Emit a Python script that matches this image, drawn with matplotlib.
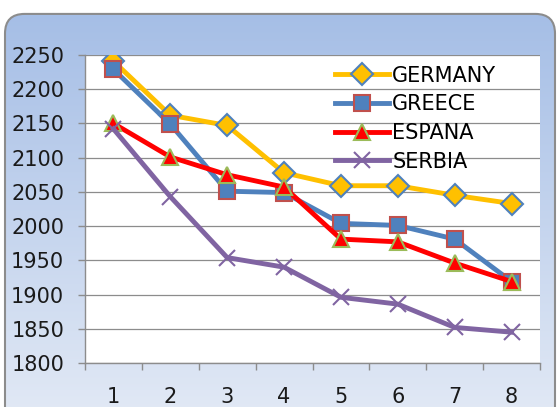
import numpy as np
import matplotlib
matplotlib.use("Agg")
import matplotlib.pyplot as plt
from matplotlib.patches import FancyBboxPatch
from matplotlib.ticker import FixedLocator

x = [1, 2, 3, 4, 5, 6, 7, 8]
germany = [2241, 2162, 2147, 2078, 2059, 2059, 2045, 2033]
greece = [2229, 2149, 2051, 2049, 2004, 2001, 1981, 1919]
espana = [2150, 2101, 2075, 2057, 1981, 1977, 1946, 1919]
serbia = [2142, 2043, 1954, 1940, 1896, 1886, 1852, 1845]
y_ticks = [1800, 1850, 1900, 1950, 2000, 2050, 2100, 2150, 2200, 2250]

plt.rcParams['font.family'] = ['DejaVu Sans']

fig = plt.figure(figsize=(5.6, 4.07), dpi=100)

# background: rounded box with vertical blue gradient
bg = fig.add_axes([0, 0, 1, 1], zorder=0)
bg.set_xlim(0, 1)
bg.set_ylim(0, 1)
bg.axis('off')
grad = np.linspace(0, 1, 256).reshape(-1, 1)
top = np.array([0.64, 0.74, 0.90])
bottom = np.array([0.88, 0.91, 0.96])
img = bottom + (top - bottom) * grad
img = np.repeat(img[:, None, :], 2, axis=1)
box = FancyBboxPatch((5 / 560, -0.05), 550 / 560, 1.033 - 7 / 407,
                     boxstyle="round,pad=0,rounding_size=0.035",
                     mutation_aspect=560 / 407,
                     facecolor='none', edgecolor='#8c8c8c', linewidth=1.5,
                     transform=bg.transAxes, zorder=2)
im = bg.imshow(img, extent=[0, 1, 0, 1], origin='lower', aspect='auto', zorder=1)
bg.add_patch(box)
im.set_clip_path(box)

ax = fig.add_axes([85 / 560, 44 / 407, 455 / 560, 308 / 407], zorder=1)
ax.set_facecolor('white')

ax.plot(x, germany, color='#FFC000', lw=3.5, marker='D', ms=11,
        mfc='#FFC000', mec='#4F81BD', mew=1.5, label='GERMANY')
ax.plot(x, greece, color='#4F81BD', lw=3.5, marker='s', ms=11.5,
        mfc='#4F81BD', mec='#C0504D', mew=1.5, label='GREECE')
ax.plot(x, espana, color='#FF0000', lw=3.5, marker='^', ms=12,
        mfc='#FF0000', mec='#9BBB59', mew=1.5, label='ESPANA')
ax.plot(x, serbia, color='#8064A2', lw=3.5, marker='x', ms=12,
        mfc='#8064A2', mec='#8064A2', mew=1.5, label='SERBIA')

ax.set_xlim(0.5, 8.5)
ax.set_ylim(1800, 2250)
ax.set_yticks(y_ticks)
ax.set_xticks(x)
ax.xaxis.set_minor_locator(FixedLocator([v + 0.5 for v in [0] + x]))
ax.yaxis.grid(True, color='#8c8c8c', lw=0.9)
ax.set_axisbelow(True)

for s in ['top', 'right']:
    ax.spines[s].set_visible(False)
for s in ['left', 'bottom']:
    ax.spines[s].set_color('#8c8c8c')
    ax.spines[s].set_linewidth(1.0)

ax.tick_params(axis='y', length=5, width=1, color='#8c8c8c', pad=10,
               labelsize=15, labelcolor='#1a1a1a')
ax.tick_params(axis='x', which='major', length=0, pad=17,
               labelsize=15, labelcolor='#1a1a1a')
ax.tick_params(axis='x', which='minor', length=5, width=1, color='#8c8c8c')

ax.legend(loc='upper left', bbox_to_anchor=(0.598, 0.839),
          bbox_transform=fig.transFigure, frameon=False, fontsize=15,
          numpoints=1, handlelength=2.6, handletextpad=0.15,
          labelspacing=0.42, borderpad=0, borderaxespad=0)

fig.savefig('out.png', dpi=100)
